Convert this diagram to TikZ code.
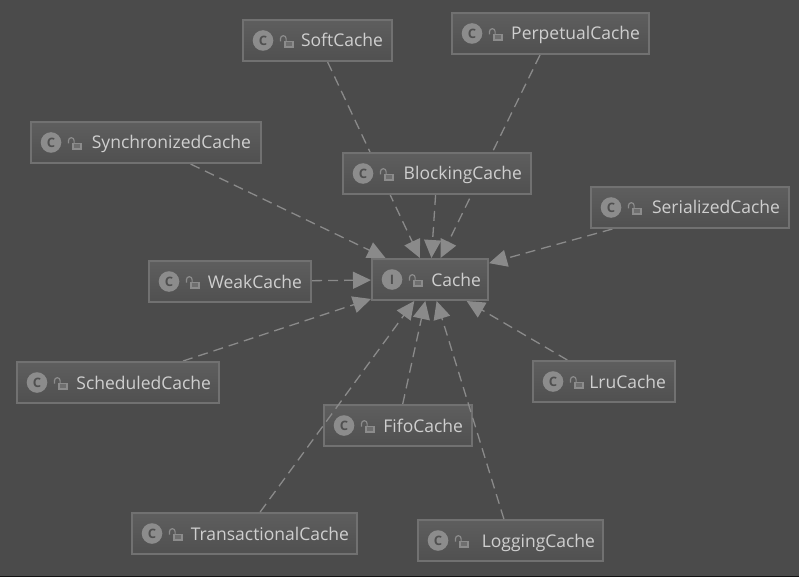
\documentclass[tikz,border=0pt]{standalone}
\usepackage{fontspec}
\setmainfont{Open Sans}
\usetikzlibrary{arrows.meta,backgrounds}

\definecolor{canvasgray}{HTML}{4B4B4B}
\definecolor{edgegray}{HTML}{8A8A8A}
\definecolor{framegray}{HTML}{717171}
\definecolor{labelgray}{HTML}{CFCFCF}
\definecolor{icongray}{HTML}{8C8C8C}
\definecolor{boxtop}{HTML}{5E5E5E}
\definecolor{boxbottom}{HTML}{505050}

\tikzset{
  cachebox/.style={draw=framegray,line width=1.2pt,top color=boxtop,bottom color=boxbottom,
    minimum height=41pt,inner sep=0pt,outer sep=1pt,align=right,text=labelgray,
    text height=17pt,text depth=4pt,font=\fontsize{17.5}{21}\selectfont},
  realize/.style={draw=edgegray,line width=1.3pt,dash pattern=on 10pt off 6pt,
    -{Triangle[length=18pt,width=17pt,fill=edgegray]}},
  typeicon/.pic={
    \fill[icongray] (21,0) circle (10.3);
    \node (-mark) at (21,0) [text=boxbottom,font=\bfseries\fontsize{13}{13}\selectfont,inner sep=0pt] {#1};
    \draw[icongray,line width=1.2pt,fill=icongray!50!boxbottom] (43,1) rectangle (51,6.5);
    \draw[icongray,line width=1.2pt] (38.5,1) -- (38.5,-2) arc (180:360:2.8) -- (44.1,1);
  }
}

\begin{document}
\begin{tikzpicture}[x=1pt,y=-1pt]
\useasboundingbox (0,0) rectangle (799,577);

\node (soft) [cachebox,minimum width=149pt,text width=131pt] at (317.5,40.5) {SoftCache};
\node (perpetual) [cachebox,minimum width=197pt,text width=179pt] at (550.5,33.5) {PerpetualCache};
\node (synchronized) [cachebox,minimum width=230pt,text width=210pt] at (146,142.5) {SynchronizedCache};
\node (blocking) [cachebox,minimum width=188pt,text width=170pt] at (437,173.5) {BlockingCache};
\node (serialized) [cachebox,minimum width=198pt,text width=180pt] at (690,207.5) {SerializedCache};
\node (weak) [cachebox,minimum width=162pt,text width=144pt] at (230,281.5) {WeakCache};
\node (cache) [cachebox,minimum width=116pt,text width=102pt] at (430,279.5) {Cache};
\node (scheduled) [cachebox,minimum width=202pt,text width=186pt] at (118,382.5) {ScheduledCache};
\node (lru) [cachebox,minimum width=142pt,text width=124pt] at (604,381.5) {LruCache};
\node (fifo) [cachebox,minimum width=148pt,text width=130pt] at (398,425.5) {FifoCache};
\node (transactional) [cachebox,minimum width=225pt,text width=209pt] at (244.5,533.5) {TransactionalCache};
\node (logging) [cachebox,minimum width=185pt,text width=169pt] at (510.5,540.5) {LoggingCache};

\pic (softicon) at (soft.west) {typeicon=C};
\pic (perpetualicon) at (perpetual.west) {typeicon=C};
\pic (synchronizedicon) at (synchronized.west) {typeicon=C};
\pic (blockingicon) at (blocking.west) {typeicon=C};
\pic (serializedicon) at (serialized.west) {typeicon=C};
\pic (weakicon) at (weak.west) {typeicon=C};
\pic (cacheicon) at (cache.west) {typeicon=I};
\pic (scheduledicon) at (scheduled.west) {typeicon=C};
\pic (lruicon) at (lru.west) {typeicon=C};
\pic (fifoicon) at (fifo.west) {typeicon=C};
\pic (transactionalicon) at (transactional.west) {typeicon=C};
\pic (loggingicon) at (logging.west) {typeicon=C};

\begin{scope}[on background layer]
   \fill[canvasgray] (0,0) rectangle (799,577);
   \fill[black!75!canvasgray] (0,575.5) rectangle (799,577);
   \draw[realize] (soft) -- (cache);
   \draw[realize] (perpetual) -- (cache);
   \draw[realize] (synchronized) -- (cache);
   \draw[realize] (blocking) -- (cache);
   \draw[realize] (serialized) -- (cache);
   \draw[realize] (weak) -- (cache);
   \draw[realize] (scheduled) -- (cache);
   \draw[realize] (lru) -- (cache);
   \draw[realize] (fifo) -- (cache);
\end{scope}
% these two run over the fifo box
\draw[realize] (transactional) -- (cache);
\draw[realize] (logging) -- (cache);
\end{tikzpicture}
\end{document}
